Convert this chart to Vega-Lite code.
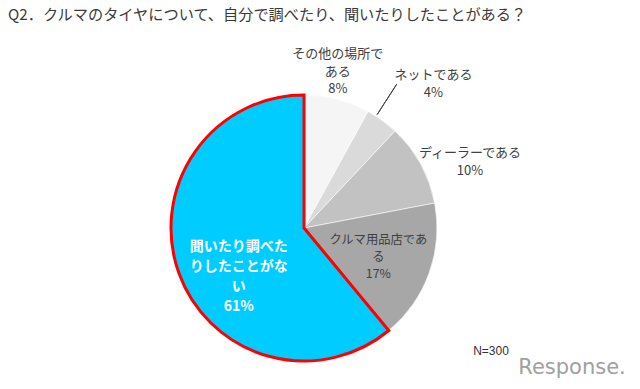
{
  "$schema": "https://vega.github.io/schema/vega-lite/v6.json",
  "width": 266,
  "height": 266,
  "autosize": {"type": "none"},
  "padding": {"left": 171, "top": 95, "right": 203, "bottom": 28},
  "background": "#ffffff",
  "view": {"stroke": null},
  "title": {
    "text": "Q2．クルマのタイヤについて、自分で調べたり、聞いたりしたことがある？",
    "anchor": "start",
    "frame": "group",
    "dx": -163,
    "offset": 15,
    "font": "Noto Sans CJK JP",
    "fontSize": 15.2,
    "fontWeight": "normal",
    "color": "#3a3a3a"
  },
  "data": {
    "values": [
      {"cat": "その他の場所である", "pct": 8, "label": "その他の場所で\nある\n8%"},
      {"cat": "ネットである", "pct": 4, "label": "ネットである\n4%"},
      {"cat": "ディーラーである", "pct": 10, "label": "ディーラーである\n10%"},
      {"cat": "クルマ用品店である", "pct": 17, "label": "クルマ用品店であ\nる\n17%"},
      {"cat": "聞いたり調べたりしたことがない", "pct": 61, "label": "聞いたり調べた\nりしたことがな\nい\n61%"}
    ]
  },
  "transform": [{"window": [{"op": "row_number", "as": "idx"}]}],
  "layer": [
    {
      "mark": {"type": "arc"},
      "encoding": {
        "theta": {"field": "pct", "type": "quantitative", "stack": true, "scale": {"domain": [0, 100]}},
        "order": {"field": "idx", "type": "quantitative", "sort": "ascending"},
        "color": {
          "field": "cat",
          "type": "nominal",
          "legend": null,
          "scale": {
            "domain": ["その他の場所である", "ネットである", "ディーラーである", "クルマ用品店である", "聞いたり調べたりしたことがない"],
            "range": ["#f5f5f5", "#dadada", "#c2c2c2", "#a7a7a7", "#00ccff"]
          }
        },
        "stroke": {"condition": {"test": "datum.cat === '聞いたり調べたりしたことがない'", "value": "#ff0000"}, "value": "#ffffff"},
        "strokeWidth": {"condition": {"test": "datum.cat === '聞いたり調べたりしたことがない'", "value": 3}, "value": 0.6}
      }
    },
    {
      "transform": [
        {"stack": "pct", "groupby": [], "sort": [{"field": "idx", "order": "ascending"}], "as": ["v0", "v1"]},
        {"filter": "datum.cat === 'ネットである'"}
      ],
      "mark": {"type": "arc", "filled": false, "stroke": "#404040", "strokeWidth": 1, "thetaOffset": 0.07, "theta2Offset": 0.07},
      "encoding": {
        "theta": {"field": "v0", "type": "quantitative", "stack": null, "scale": {"domain": [0, 100]}},
        "theta2": {"field": "v0"},
        "radius": {"value": 171},
        "radius2": {"value": 135}
      }
    },
    {
      "mark": {"type": "text", "radius": 160, "dx": -6, "dy": -19, "font": "Noto Sans CJK JP", "fontSize": 13, "lineHeight": 17.5, "lineBreak": "\n", "color": "#404040", "align": "center", "baseline": "middle"},
      "encoding": {
        "theta": {"field": "pct", "type": "quantitative", "stack": true, "scale": {"domain": [0, 100]}},
        "order": {"field": "idx", "type": "quantitative", "sort": "ascending"},
        "detail": {"field": "cat", "type": "nominal"},
        "text": {"condition": {"test": "datum.cat === 'その他の場所である'", "field": "label"}, "value": ""}
      }
    },
    {
      "mark": {"type": "text", "radius": 193, "dx": 16, "dy": 3, "font": "Noto Sans CJK JP", "fontSize": 13, "lineHeight": 18, "lineBreak": "\n", "color": "#404040", "align": "center", "baseline": "middle"},
      "encoding": {
        "theta": {"field": "pct", "type": "quantitative", "stack": true, "scale": {"domain": [0, 100]}},
        "order": {"field": "idx", "type": "quantitative", "sort": "ascending"},
        "detail": {"field": "cat", "type": "nominal"},
        "text": {"condition": {"test": "datum.cat === 'ネットである'", "field": "label"}, "value": ""}
      }
    },
    {
      "mark": {"type": "text", "radius": 178, "dx": 10, "dy": 11, "font": "Noto Sans CJK JP", "fontSize": 13, "lineHeight": 17.5, "lineBreak": "\n", "color": "#404040", "align": "center", "baseline": "middle"},
      "encoding": {
        "theta": {"field": "pct", "type": "quantitative", "stack": true, "scale": {"domain": [0, 100]}},
        "order": {"field": "idx", "type": "quantitative", "sort": "ascending"},
        "detail": {"field": "cat", "type": "nominal"},
        "text": {"condition": {"test": "datum.cat === 'ディーラーである'", "field": "label"}, "value": ""}
      }
    },
    {
      "mark": {"type": "text", "radius": 79, "dx": 0, "dy": -15, "font": "Noto Sans CJK JP", "fontSize": 12.3, "lineHeight": 17, "lineBreak": "\n", "color": "#404040", "align": "center", "baseline": "middle"},
      "encoding": {
        "theta": {"field": "pct", "type": "quantitative", "stack": true, "scale": {"domain": [0, 100]}},
        "order": {"field": "idx", "type": "quantitative", "sort": "ascending"},
        "detail": {"field": "cat", "type": "nominal"},
        "text": {"condition": {"test": "datum.cat === 'クルマ用品店である'", "field": "label"}, "value": ""}
      }
    },
    {
      "mark": {"type": "text", "radius": 79, "dx": 9, "dy": -8, "font": "Noto Sans CJK JP", "fontSize": 14, "fontWeight": "bold", "lineHeight": 20, "lineBreak": "\n", "color": "#ffffff", "align": "center", "baseline": "middle"},
      "encoding": {
        "theta": {"field": "pct", "type": "quantitative", "stack": true, "scale": {"domain": [0, 100]}},
        "order": {"field": "idx", "type": "quantitative", "sort": "ascending"},
        "detail": {"field": "cat", "type": "nominal"},
        "text": {"condition": {"test": "datum.cat === '聞いたり調べたりしたことがない'", "field": "label"}, "value": ""}
      }
    },
    {
      "data": {"values": [{"note": "N=300"}]},
      "mark": {"type": "text", "font": "Liberation Sans", "fontSize": 12, "color": "#333333", "align": "center", "baseline": "middle"},
      "encoding": {"x": {"value": 320}, "y": {"value": 256}, "text": {"field": "note"}}
    },
    {
      "data": {"values": [{"note": "Response."}]},
      "mark": {"type": "text", "font": "DejaVu Sans", "fontSize": 21, "color": "#a0a0a0", "align": "center", "baseline": "middle"},
      "encoding": {"x": {"value": 401}, "y": {"value": 273}, "text": {"field": "note"}}
    }
  ]
}
